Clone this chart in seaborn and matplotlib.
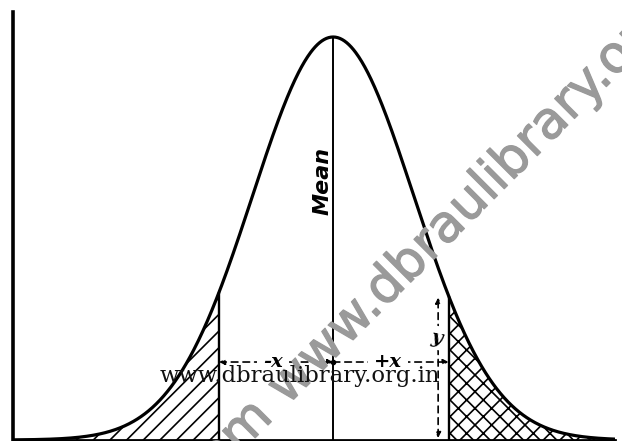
import numpy as np
import pandas as pd
import matplotlib
matplotlib.use("Agg")
import matplotlib.pyplot as plt
import matplotlib.patheffects as pe
import seaborn as sns

# ---- data (x in standard-deviation units) ----
mean_value = 0.0
sd_value = 1.0
x_limits = [-3.975, 3.50]
left_cut = -1.416          # -x boundary
right_cut = 1.435          # +x boundary
arrow_level = 0.0772       # height of the dashed +/-x arrows
y_arrow_x = 1.304          # position of the vertical "y" arrow
labels_x = ["-x", "+x"]
label_y = "y"
label_mean = "Mean"
watermark_main = "www.dbraulibrary.org.in"
watermark_prefix = "Downloaded from"

# theoretical normal curve
xs = np.linspace(x_limits[0], x_limits[1], 800)
ys = np.exp(-0.5 * ((xs - mean_value) / sd_value) ** 2) / (sd_value * np.sqrt(2 * np.pi))
df = pd.DataFrame({"x": xs, "y": ys})
peak = 1 / (sd_value * np.sqrt(2 * np.pi))

def pdf(v):
    return np.exp(-0.5 * ((v - mean_value) / sd_value) ** 2) / (sd_value * np.sqrt(2 * np.pi))

sns.set_theme(style="white")
plt.rcParams["font.family"] = ["DejaVu Sans"]
plt.rcParams["hatch.linewidth"] = 1.2
plt.rcParams["hatch.color"] = "black"

W, H = 622, 441
fig = plt.figure(figsize=(W / 100, H / 100), dpi=100)
ax = fig.add_axes([13 / W, 1 / H, (615 - 13) / W, (440 - 12) / H])
ax.set_xlim(*x_limits)
ax.set_ylim(0, peak * 428 / 403)

# gray diagonal watermark (behind)
wm_color = "#9a9a9a"
wm_fx = [pe.withStroke(linewidth=0.9, foreground=wm_color)]
px, py = 287, 406
fig.text(px / W, 1 - py / H, watermark_main, rotation=45, rotation_mode="anchor",
         ha="left", va="baseline", fontsize=37, color=wm_color, zorder=0,
         family="DejaVu Sans", path_effects=wm_fx)
off = 18
fig.text((px - off * 0.707) / W, 1 - (py + off * 0.707) / H, watermark_prefix, rotation=45,
         rotation_mode="anchor", ha="right", va="baseline", fontsize=37, color=wm_color,
         zorder=0, family="DejaVu Sans", path_effects=wm_fx)
ax.patch.set_alpha(0)

# tails with hatching
lm = df["x"] <= left_cut
rm = df["x"] >= right_cut
ax.fill_between(df["x"][lm], 0, df["y"][lm], facecolor="none", edgecolor="black",
                hatch="//", linewidth=0)
ax.fill_between(df["x"][rm], 0, df["y"][rm], facecolor="none", edgecolor="black",
                hatch="xx", linewidth=0)

# curve
sns.lineplot(data=df, x="x", y="y", color="black", linewidth=2.3, ax=ax, zorder=5)

# vertical lines
ax.vlines([left_cut, right_cut], 0, [pdf(left_cut), pdf(right_cut)], color="black", linewidth=1.7, zorder=5)
ax.vlines(mean_value, 0, peak, color="black", linewidth=1.4, zorder=5)

# dashed arrows
ap = dict(arrowstyle="<|-|>", color="black", lw=1.2, linestyle=(0, (4, 3)),
          mutation_scale=8, shrinkA=0, shrinkB=0)
ax.annotate("", xy=(left_cut, arrow_level), xytext=(mean_value, arrow_level), arrowprops=ap, zorder=4)
ap2 = dict(ap, arrowstyle="-|>")
ax.annotate("", xy=(right_cut, arrow_level), xytext=(mean_value, arrow_level), arrowprops=ap2, zorder=4)
ax.plot([mean_value], [arrow_level], marker="o", ms=3, color="black", zorder=6)
ax.annotate("", xy=(y_arrow_x, pdf(right_cut) * 0.99), xytext=(y_arrow_x, 0.002), arrowprops=ap, zorder=4)

tx_kw = dict(fontsize=14, fontweight="bold", fontstyle="italic", family="DejaVu Serif",
             ha="center", va="center", zorder=7, color="black",
             bbox=dict(boxstyle="square,pad=0.3", facecolor="white", edgecolor="none"))
ax.text((left_cut + mean_value) / 2 - 0.04, arrow_level, labels_x[0], **tx_kw)
ax.text((right_cut + mean_value) / 2 - 0.04, arrow_level, labels_x[1], **tx_kw)
ax.text(y_arrow_x - 0.02, pdf(right_cut) * 0.71, label_y, rotation=-10,
        **dict(tx_kw, bbox=dict(boxstyle="square,pad=0.15", facecolor="white", edgecolor="none")))

ax.text(mean_value - 0.137, 0.643 * peak, label_mean, rotation=90, fontsize=16,
        fontweight="bold", fontstyle="italic", ha="center", va="center", zorder=7,
        color="black")

# black serif watermark line
fig.text(160 / W, 1 - 382 / H, watermark_main, family="DejaVu Serif", fontsize=16.4,
         color="#111111", ha="left", va="baseline", zorder=8)

sns.despine(ax=ax, top=True, right=True)
ax.spines["left"].set_linewidth(2.6)
ax.spines["bottom"].set_linewidth(2.0)
ax.spines["left"].set_color("black")
ax.spines["bottom"].set_color("black")
ax.set_xticks([])
ax.set_yticks([])
ax.set_xlabel("")
ax.set_ylabel("")

fig.savefig("out.png", dpi=100, facecolor="white")
